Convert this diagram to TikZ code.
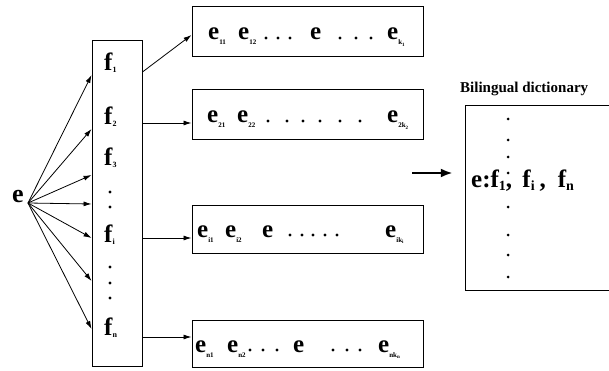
\documentclass[tikz,border=0pt]{standalone}
\usepackage{fontspec}
\setmainfont{Liberation Serif}
\usetikzlibrary{arrows.meta}
\newcommand\bsub[1]{\raisebox{-5pt}{\fontsize{7}{7}\selectfont\bfseries #1}}
\newcommand\ksub[1]{\raisebox{-1.5pt}{\fontsize{5}{5}\selectfont\bfseries #1}}
\newcommand\fsub[1]{\raisebox{-2pt}{\fontsize{8}{8}\selectfont\bfseries #1}}
\newcommand\dsub[1]{\raisebox{-3.5pt}{\fontsize{14}{14}\selectfont\bfseries #1}}
\begin{document}
\begin{tikzpicture}[x=1pt,y=-1pt,
  ebox/.style={draw, line width=1pt, inner sep=0, minimum width=231pt},
  etok/.style={anchor=base west, inner sep=0, font=\fontsize{25}{25}\selectfont\bfseries},
  ftok/.style={anchor=base west, inner sep=0, font=\fontsize{25}{25}\selectfont\bfseries},
  arr/.style={line width=0.8pt, -{Latex[length=8pt,width=5pt]}},
  dotm/.style={circle, fill, inner sep=0, minimum size=3.2pt}]
\useasboundingbox (0,0) rectangle (609,371);
\clip (0,0) rectangle (609,371);
% source word
\node[etok, font=\fontsize{26}{26}\selectfont\bfseries] (e) at (12,203) {e};
\coordinate (eo) at (28,203);
% f column
\node[draw, line width=0.9pt, minimum width=50pt, minimum height=326pt, inner sep=0] (fbox) at (117,203) {};
\node[ftok] (f1) at (104,71) {f\fsub{1}};
\node[ftok] (f2) at (104,125) {f\fsub{2}};
\node[ftok] (f3) at (104,166) {f\fsub{3}};
\node[ftok] (fi) at (104,242) {f\fsub{i}};
\node[ftok] (fn) at (104,335) {f\fsub{n}};
\foreach \yy [count=\k] in {192,207,267,283,298}
  \node[dotm] (fd\k) at (110,\yy) {};
% arrows e -> f box
\foreach \yy in {75,129,175,204,238,281,329}
  \draw[arr] (eo) -- (fbox.west |- 0,\yy);
% e boxes
\node[ebox, minimum height=50pt] (b1) at (307.5,32) {};
\node[ebox, minimum height=50pt] (b2) at (307.5,115) {};
\node[ebox, minimum height=48pt] (b3) at (307.5,229) {};
\node[ebox, minimum height=47pt] (b4) at (307.5,343.5) {};
\draw[arr] (fbox.east |- 0,72) -- (b1.west |- 0,35);
\draw[arr] (fbox.east |- 0,123) -- (b2.west |- 0,123);
\draw[arr] (fbox.east |- 0,238) -- (b3.west |- 0,238);
\draw[arr] (fbox.east |- 0,337) -- (b4.west |- 0,337);
% box 1
\node[etok] (e11) at (208,40) {e\bsub{11}};
\node[etok] (e12) at (238,40) {e\bsub{12}};
\node[etok] (e1m) at (310,40) {e};
\node[etok] (e1k) at (387,40) {e\bsub{k\ksub{1}}};
\foreach \xx [count=\k] in {266,278,290,340,356,371}
  \node[dotm] (d1\k) at (\xx,38) {};
% box 2
\node[etok] (e21) at (207,123) {e\bsub{21}};
\node[etok] (e22) at (237,123) {e\bsub{22}};
\node[etok] (e2k) at (387,123) {e\bsub{2k\ksub{2}}};
\foreach \xx [count=\k] in {268,287,303,320,340,360}
  \node[dotm] (d2\k) at (\xx,121) {};
% box 3
\node[etok] (e31) at (197,237) {e\bsub{i1}};
\node[etok] (e32) at (225,237) {e\bsub{i2}};
\node[etok] (e3m) at (262,237) {e};
\node[etok] (e3k) at (385,237) {e\bsub{ik\ksub{i}}};
\foreach \xx [count=\k] in {290,302,313,325,337}
  \node[dotm] (d3\k) at (\xx,235) {};
% box 4
\node[etok] (e41) at (195,352) {e\bsub{n1}};
\node[etok] (e42) at (227,352) {e\bsub{n2}};
\node[etok] (e4m) at (293,352) {e};
\node[etok] (e4k) at (378,352) {e\bsub{nk\ksub{n}}};
\foreach \xx [count=\k] in {250,263,277,333,347,360}
  \node[dotm] (d4\k) at (\xx,350) {};
% dictionary (box runs off the right edge of the picture)
\node[anchor=base west, inner sep=0, font=\fontsize{15}{15}\selectfont\bfseries] (title) at (460,93) {Bilingual dictionary};
\node[inner sep=0, minimum width=180pt, minimum height=184pt] (dict) at (556,198) {};
\draw[line width=1.2pt] (dict.north east) -- (dict.north west) -- (dict.south west) -- (dict.south east);
\coordinate (da) at (412,173);
\draw[line width=2.6pt, -{Latex[length=12pt,width=9pt]}, shorten >=13pt] (da) -- (dict.west |- da);
\foreach \yy [count=\k] in {119,140,157,173,207,235,255,277}
  \node[dotm, minimum size=3pt] (dd\k) at (508,\yy) {};
\node[anchor=base west, inner sep=0, font=\fontsize{25}{25}\selectfont\bfseries] (entry) at (471,187) {e:f\dsub{1}, \hspace{4pt}f\dsub{i}\hspace{5pt},\hspace{12pt}f\dsub{n}};
\end{tikzpicture}
\end{document}
